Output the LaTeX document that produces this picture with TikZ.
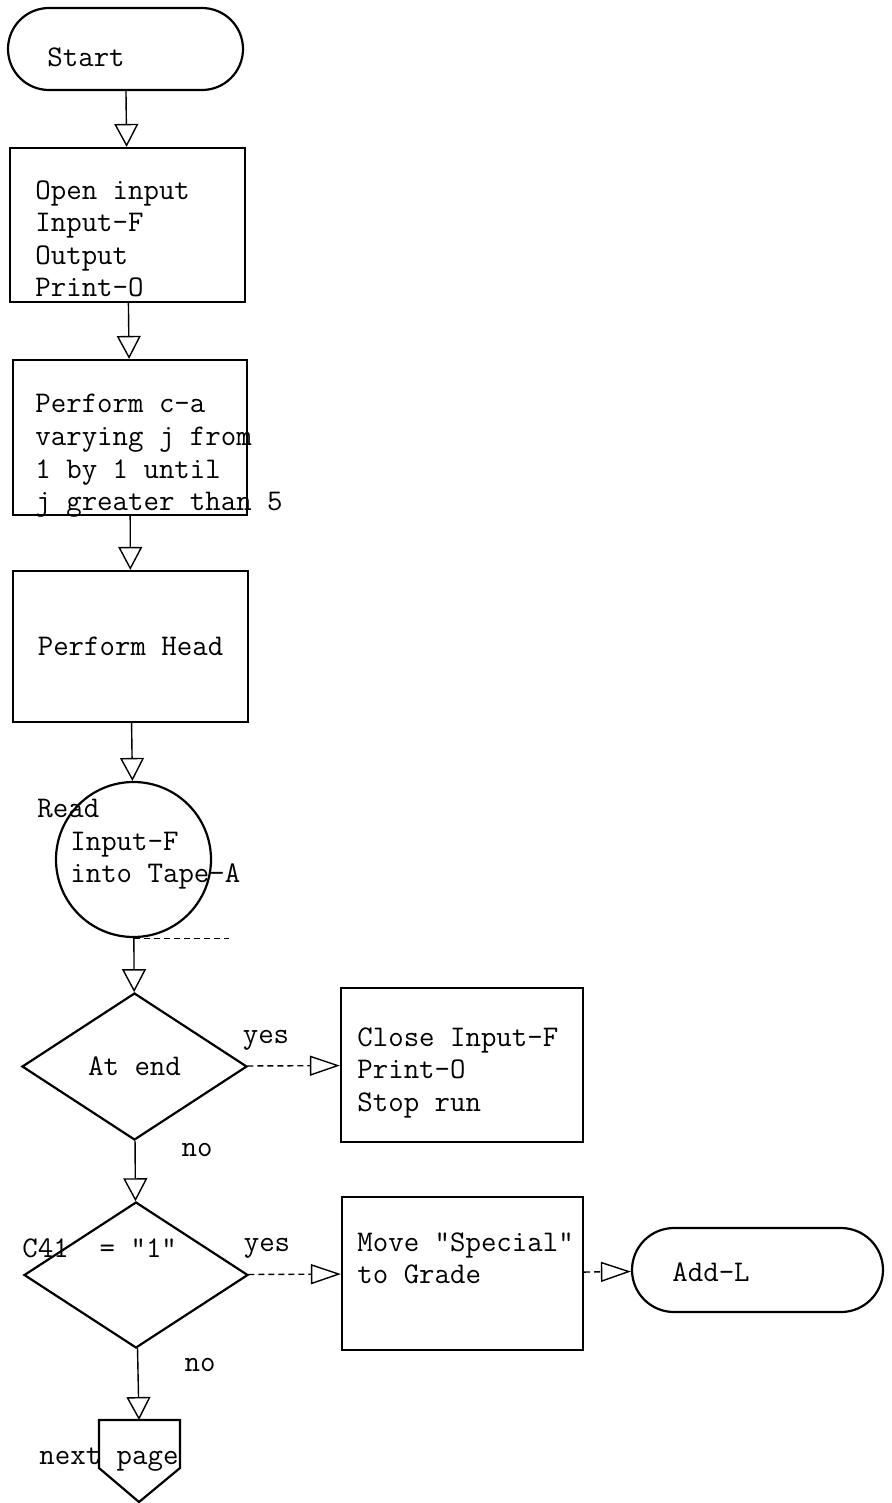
\documentclass[tikz,border=0pt]{standalone}
\usepackage{tikz}
\usetikzlibrary{arrows.meta}
\usetikzlibrary{shapes.geometric}

\newcommand{\typed}{\ttfamily\fontsize{15}{16.3}\selectfont}

\tikzset{
  flowbox/.style={draw, line width=1.1pt, inner sep=0pt},
  procbox/.style={flowbox, rectangle},
  termbox/.style={flowbox, rectangle, rounded corners=20.5pt},
  askbox/.style={flowbox, diamond},
  typedtext/.style={inner sep=0pt, align=left},
  downlink/.style={line width=0.7pt, -{Triangle[open, length=11.5pt, width=12pt]}},
  sidelink/.style={line width=0.7pt, densely dashed, -{Triangle[open, length=15pt, width=10pt]}}
}

\begin{document}
\begin{tikzpicture}[x=0.5, y=-0.5, font=\typed]
\useasboundingbox (0,0) rectangle (892,1503);

\node[termbox, minimum width=117.5pt, minimum height=41pt] (start) at (125.5,49) {};
\node[typedtext, anchor=west] (starttxt) at (47,57) {Start};

\node[procbox, minimum width=117.5pt, minimum height=77pt] (open) at (127.5,225) {};
\node[typedtext, anchor=north west] (opentxt) at (35,180) {Open input\\Input-F\\Output\\Print-O};

\node[procbox, minimum width=117pt, minimum height=77.5pt] (vary) at (130,437.5) {};
\node[typedtext, anchor=north west] (varytxt) at (35,394) {Perform c-a\\varying j from\\1 by 1 until\\j greater than 5};

\node[procbox, minimum width=117.5pt, minimum height=75.5pt] (head) at (130.5,646.5) {Perform Head};

\node[flowbox, circle, minimum size=77.5pt] (rd) at (133.5,859.5) {};
\node[typedtext, anchor=north west] (rdtxt) at (37,799) {Read\\\hspace*{16.5pt}Input-F\\\hspace*{16.5pt}into Tape-A};
\draw[line width=0.5pt, densely dashed] (rd.south) -- ++(95,0);

\node[askbox, minimum width=112.5pt, minimum height=73.5pt] (atend) at (134.5,1066.5) {At end};
\node[typedtext] (yes1) at (266,1040) {yes};
\node[typedtext] (no1) at (197,1150) {no};

\node[procbox, minimum width=121pt, minimum height=77pt] (close) at (462,1065) {};
\node[typedtext, anchor=north west] (closetxt) at (357,1027) {Close Input-F\\Print-O\\Stop run};

\node[askbox, minimum width=112pt, minimum height=73pt] (cval) at (136,1275) {};
\node[typedtext, anchor=west] (cvaltxt) at (22,1248) {C41~~=~"1"};
\node[typedtext] (yes2) at (267,1248) {yes};
\node[typedtext] (no2) at (200,1365) {no};

\node[procbox, minimum width=120.5pt, minimum height=76.5pt] (move) at (462.5,1273.5) {};
\node[typedtext, anchor=north west] (movetxt) at (357,1232) {Move "Special"\\to Grade};

\node[termbox, minimum width=125.5pt, minimum height=42pt, rounded corners=21pt] (addl) at (757.5,1270) {};
\node[typedtext, anchor=west] (addltxt) at (672,1272) {Add-L};

\coordinate (page) at (139,1420);
\draw[line width=1.1pt] (page) -- ++(41,0) -- ++(0,48) -- ++(-41,34) -- ++(-40,-34) -- ++(0,-48) -- cycle;
\node[typedtext, anchor=west] (pagetxt) at (39,1460) {next page};

\draw[downlink] (start) -- (open);
\draw[downlink] (open) -- (vary);
\draw[downlink] (vary) -- (head);
\draw[downlink] (head) -- (rd);
\draw[downlink] (rd) -- (atend);
\draw[downlink] (atend) -- (cval);
\draw[downlink] (cval) -- (page);
\draw[sidelink] (atend) -- (close);
\draw[sidelink] (cval) -- (move);
\draw[sidelink] (move) -- (addl);
\end{tikzpicture}
\end{document}
